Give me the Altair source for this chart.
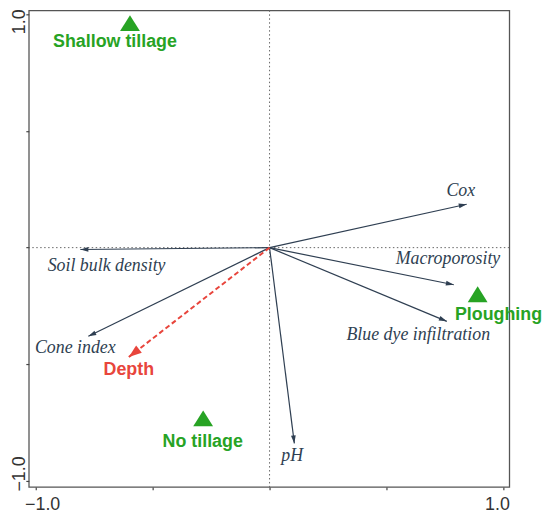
import altair as alt
import numpy as np
import pandas as pd

# ---- data ----
variables = ["Cox", "Soil bulk density", "Macroporosity", "Blue dye infiltration", "pH", "Cone index"]
var_x = [0.843, -0.809, 0.788, 0.758, 0.106, -0.775]
var_y = [0.186, -0.008, -0.159, -0.316, -0.839, -0.380]
var_label_x = [0.818, -0.697, 0.763, 0.636, 0.097, -0.831]
var_label_y = [0.223, -0.100, -0.070, -0.397, -0.915, -0.452]

env_names = ["Depth"]
env_x = [-0.602]
env_y = [-0.469]
env_label_x = [-0.602]
env_label_y = [-0.546]

treatments = ["Shallow tillage", "Ploughing", "No tillage"]
trt_x = [-0.597, 0.890, -0.284]
trt_y = [0.962, -0.200, -0.732]
trt_label_x = [-0.661, 0.979, -0.286]
trt_label_y = [0.860, -0.312, -0.856]

axis_ticks = [-1.0, -0.5, 0.0, 0.5, 1.0]

# ---- tables ----
def arrow_table(names, xs, ys, lx, ly):
    df = pd.DataFrame({"name": names, "x": xs, "y": ys, "lx": lx, "ly": ly})
    df["x0"] = 0.0
    df["y0"] = 0.0
    df["angle"] = np.degrees(np.arctan2(df["x"], df["y"])) % 360
    return df

var_df = arrow_table(variables, var_x, var_y, var_label_x, var_label_y)
env_df = arrow_table(env_names, env_x, env_y, env_label_x, env_label_y)
trt_df = pd.DataFrame({"name": treatments, "x": trt_x, "y": trt_y, "lx": trt_label_x, "ly": trt_label_y})

SLATE = "#2f3f52"
GREEN = "#27a324"
RED = "#e8453c"

xscale = alt.Scale(domain=[-1.0297, 1.0254], nice=False, zero=False)
yscale = alt.Scale(domain=[-1.0255, 1.017], nice=False, zero=False)

xaxis = alt.Axis(
    values=axis_ticks, format=".1f", title=None, grid=False, domain=False,
    labelExpr="abs(datum.value) == 1 ? datum.label : ''",
    labelOffset={"condition": {"test": "datum.value < 0", "value": 6.5}, "value": -6.5},
    tickSize=3, labelPadding=6, labelBaseline="top",
)
yaxis = alt.Axis(
    values=axis_ticks, format=".1f", title=None, grid=False, domain=False,
    labelExpr="abs(datum.value) == 1 ? datum.label : ''",
    labelAngle=-90, labelAlign="center", labelBaseline="alphabetic",
    labelOffset={"condition": {"test": "datum.value < 0", "value": -7.5}, "value": 7},
    tickSize=3, labelPadding=1.5,
)

def X(field):
    return alt.X(field, type="quantitative", scale=xscale, axis=xaxis)

def Y(field):
    return alt.Y(field, type="quantitative", scale=yscale, axis=yaxis)

zero_df = pd.DataFrame({"v": [0.0]})

vline = alt.Chart(zero_df).mark_rule(color="#666", strokeWidth=1, strokeDash=[1.5, 2.5]).encode(x=X("v"))
hline = alt.Chart(zero_df).mark_rule(color="#666", strokeWidth=1, strokeDash=[1.5, 2.5]).encode(y=Y("v"))

var_shaft = alt.Chart(var_df).mark_rule(color=SLATE, strokeWidth=1.2).encode(
    x=X("x0"), y=Y("y0"), x2="x", y2="y")
var_head = alt.Chart(var_df).mark_point(
    shape="M0,0L0.3,1L-0.3,1Z", size=256, filled=True, color=SLATE, opacity=1, strokeWidth=0
).encode(x=X("x"), y=Y("y"), angle=alt.Angle("angle:Q", scale=None))
var_text = alt.Chart(var_df).mark_text(
    font="Liberation Serif", fontStyle="italic", fontSize=18, color=SLATE,
    align="center", baseline="alphabetic"
).encode(x=X("lx"), y=Y("ly"), text="name")

env_shaft = alt.Chart(env_df).mark_rule(color=RED, strokeWidth=2, strokeDash=[5, 3]).encode(
    x=X("x0"), y=Y("y0"), x2="x", y2="y")
env_head = alt.Chart(env_df).mark_point(
    shape="M0,0L0.36,1L-0.36,1Z", size=676, filled=True, color=RED, opacity=1, strokeWidth=0
).encode(x=X("x"), y=Y("y"), angle=alt.Angle("angle:Q", scale=None))
env_text = alt.Chart(env_df).mark_text(
    font="Liberation Sans", fontWeight="bold", fontSize=18, color=RED,
    align="center", baseline="alphabetic"
).encode(x=X("lx"), y=Y("ly"), text="name")

trt_pts = alt.Chart(trt_df).mark_point(
    shape="M-1,0.8L0,-0.8L1,0.8Z", size=400, filled=True, color=GREEN, opacity=1, strokeWidth=0
).encode(x=X("x"), y=Y("y"))
trt_text = alt.Chart(trt_df).mark_text(
    font="Liberation Sans", fontWeight="bold", fontSize=18, color=GREEN,
    align="center", baseline="alphabetic", clip=False
).encode(x=X("lx"), y=Y("ly"), text="name")

chart = alt.layer(
    vline, hline, var_shaft, env_shaft, var_head, env_head, var_text, env_text, trt_pts, trt_text
).properties(
    width=485, height=481,
    autosize=alt.AutoSizeParams(type="none"),
    padding={"left": 21, "top": 0, "right": 33, "bottom": 27},
).configure_view(
    stroke="#555", strokeWidth=1.3
).configure_axis(
    labelFont="Liberation Sans", labelFontSize=18, labelColor="#333",
    tickColor="#444", tickWidth=1.2
)

chart.save("out.html", embed_options={"renderer": "svg", "actions": False})
